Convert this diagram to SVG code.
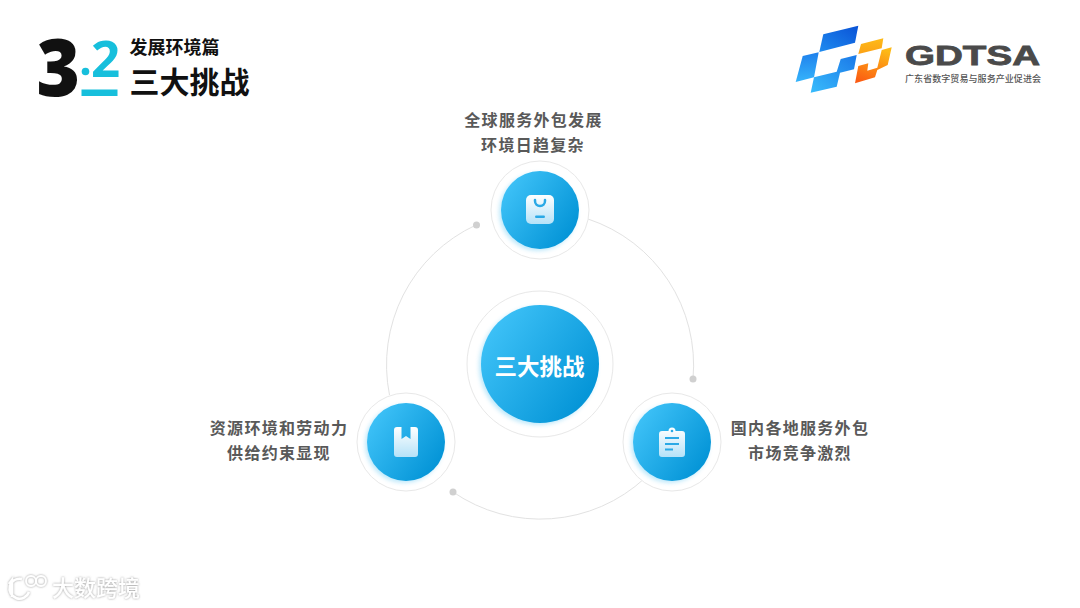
<svg xmlns="http://www.w3.org/2000/svg" width="1080" height="608" viewBox="0 0 1080 608">
<style>
text{font-family:"Noto Sans CJK SC","Noto Sans",sans-serif}
.lb{font-size:16px;font-weight:700;fill:#595959;letter-spacing:1.3px;text-anchor:middle}
.ring{fill:#fff;stroke:#e8e8e8;stroke-width:1}
.disc{fill:url(#disc)}
.halo{fill:#6fcdf5;opacity:.45;filter:url(#blur)}
.arc{fill:none;stroke:#e2e2e2;stroke-width:1}
.dot{fill:#d0d0d0}
.ic{fill:url(#ic)}
</style>
<defs>
<linearGradient id="disc" x1="0.1" y1="0.2" x2="0.9" y2="0.75"><stop offset="0" stop-color="#3cc0f6"/><stop offset="1" stop-color="#0696d8"/></linearGradient>
<linearGradient id="ic" x1="0" y1="0" x2="0" y2="1"><stop offset="0" stop-color="#fff"/><stop offset="1" stop-color="#b5e2f8"/></linearGradient>
<linearGradient id="b1" x1="1" y1="0" x2="0" y2="1"><stop offset="0" stop-color="#0a52d6"/><stop offset="1" stop-color="#1f8cf0"/></linearGradient>
<linearGradient id="b2" x1="0" y1="0" x2="0" y2="1"><stop offset="0" stop-color="#1f80ec"/><stop offset="1" stop-color="#35b4fb"/></linearGradient>
<linearGradient id="b3" x1="1" y1="0" x2="0" y2="1"><stop offset="0" stop-color="#1a78e8"/><stop offset="1" stop-color="#38bcfc"/></linearGradient>
<linearGradient id="o1" x1="0.6" y1="0" x2="0.2" y2="1"><stop offset="0" stop-color="#fdb916"/><stop offset="1" stop-color="#fb5a12"/></linearGradient>
<linearGradient id="o2" x1="0" y1="0" x2="0" y2="1"><stop offset="0" stop-color="#fdbb18"/><stop offset="1" stop-color="#fca116"/></linearGradient>
<filter id="blur" x="-20%" y="-20%" width="140%" height="140%"><feGaussianBlur stdDeviation="2"/></filter>
<filter id="wm" x="-10%" y="-20%" width="120%" height="140%"><feDropShadow dx="0" dy="0" stdDeviation="1" flood-color="#8a8a8a" flood-opacity=".9"/></filter>
</defs>
<rect width="1080" height="608" fill="#fff"/>
<g id="title">
<text transform="translate(36.500,95.500) scale(.93,1)" font-size="80" font-weight="800" fill="#111" style='font-family:"Open Sans","Noto Sans",sans-serif'>3</text>
<text x="91" y="77" font-size="51" font-weight="700" fill="#17bfdc" style='font-family:"Open Sans","Noto Sans",sans-serif'>2</text>
<circle cx="85.500" cy="71.500" r="3.800" fill="#17bfdc"/>
<rect x="81.500" y="89.500" width="36" height="6.500" fill="#17bfdc"/>
<text x="129.500" y="54" font-size="18" font-weight="700" fill="#111">发展环境篇</text>
<text x="129.500" y="93" font-size="30" font-weight="700" fill="#111">三大挑战</text>
</g>
<g id="logo">
<polygon points="823.300,34.300 858.300,25.700 855,42.700 819.300,52" fill="url(#b1)"/>
<polygon points="802.700,56 818.700,52.300 814,77.300 795.700,82" fill="url(#b2)"/>
<polygon points="840.700,59 856.700,55 854,69.300 840,72.700 836.700,86.700 810.700,92.700 814,77.300 836.700,71.700" fill="url(#b3)"/>
<polygon points="861,44 883.300,38.300 881.700,48.300 858.300,54" fill="url(#o2)"/>
<polygon points="881.700,50 891.700,47.300 887.700,65 877.300,70 875,77.300 855,83.300 858.300,66 868.300,63.300 867.300,70.700 877.300,67.700" fill="url(#o1)"/>
<text x="905" y="65" font-size="28" font-weight="700" fill="#4a4a4a" stroke="#4a4a4a" stroke-width=".8" textLength="135" lengthAdjust="spacingAndGlyphs" style='font-family:"Liberation Sans",sans-serif'>GDTSA</text>
<text x="905" y="81.500" font-size="9" font-weight="500" fill="#555" textLength="136">广东省数字贸易与服务产业促进会</text>
</g>
<g id="connectors">
<path class="arc" d="M588,219 A154,154 0 0 1 693,379"/>
<circle class="dot" cx="693" cy="379" r="3.500"/>
<path class="arc" d="M645,478 A154,154 0 0 1 453,492"/>
<circle class="dot" cx="453" cy="492" r="3.500"/>
<path class="arc" d="M389.500,395 A154,154 0 0 1 476,225"/>
<circle class="dot" cx="476.500" cy="225" r="3.500"/>
</g>
<g id="center">
<circle class="ring" cx="540" cy="364" r="73"/>
<circle class="halo" cx="538" cy="366" r="59"/>
<circle class="disc" cx="540" cy="364" r="59"/>
<text x="539.500" y="375" font-size="22.500" font-weight="700" fill="#fff" text-anchor="middle">三大挑战</text>
</g>
<g id="top-node">
<circle class="ring" cx="540" cy="210" r="49"/>
<circle class="halo" cx="538" cy="212" r="39"/>
<circle class="disc" cx="540" cy="210" r="39"/>
<rect class="ic" x="526" y="195" width="28" height="29" rx="5"/>
<path d="M535,200 v1 a5,5 0 0 0 10,0 v-1" fill="none" stroke="#2aa9e6" stroke-width="2.500" stroke-linecap="round"/>
<rect x="535" y="215.500" width="10" height="2.500" rx="1.200" fill="#2aa9e6"/>
<text class="lb" x="533.500" y="126">全球服务外包发展</text>
<text class="lb" x="533" y="151">环境日趋复杂</text>
</g>
<g id="left-node">
<circle class="ring" cx="406" cy="442" r="49"/>
<circle class="halo" cx="404" cy="444" r="39"/>
<circle class="disc" cx="406" cy="442" r="39"/>
<path class="ic" d="M397,427 h4.500 v12 l4.500,-3 l4.500,3 v-12 h4.500 a3,3 0 0 1 3,3 v24 a3,3 0 0 1 -3,3 h-18 a3,3 0 0 1 -3,-3 v-24 a3,3 0 0 1 3,-3 z"/>
<text class="lb" x="279" y="434">资源环境和劳动力</text>
<text class="lb" x="279" y="459">供给约束显现</text>
</g>
<g id="right-node">
<circle class="ring" cx="672" cy="442" r="49"/>
<circle class="halo" cx="670" cy="444" r="39"/>
<circle class="disc" cx="672" cy="442" r="39"/>
<path class="ic" d="M662,431 h6.500 a3.500,3.500 0 0 1 7,0 h6.500 a3,3 0 0 1 3,3 v20 a3,3 0 0 1 -3,3 h-20 a3,3 0 0 1 -3,-3 v-20 a3,3 0 0 1 3,-3 z"/>
<circle cx="672" cy="431" r="1.300" fill="#2aa9e6"/>
<path d="M665,438 h14 M665,444 h14 M665,449.500 h8" stroke="#2aa9e6" stroke-width="2" fill="none"/>
<text class="lb" x="800" y="434">国内各地服务外包</text>
<text class="lb" x="800" y="459">市场竞争激烈</text>
</g>
<g id="watermark" filter="url(#wm)">
<path d="M9,584 L12,580 V597 M22,579 A10,10 0 1 0 29,592" fill="none" stroke="#fff" stroke-width="2.500"/>
<circle cx="31" cy="581" r="5" fill="none" stroke="#fff" stroke-width="1.800"/>
<circle cx="41" cy="581" r="5" fill="none" stroke="#fff" stroke-width="1.800"/>
<text x="52" y="596" font-size="22" font-weight="500" fill="#fff">大数跨境</text>
</g>
</svg>
